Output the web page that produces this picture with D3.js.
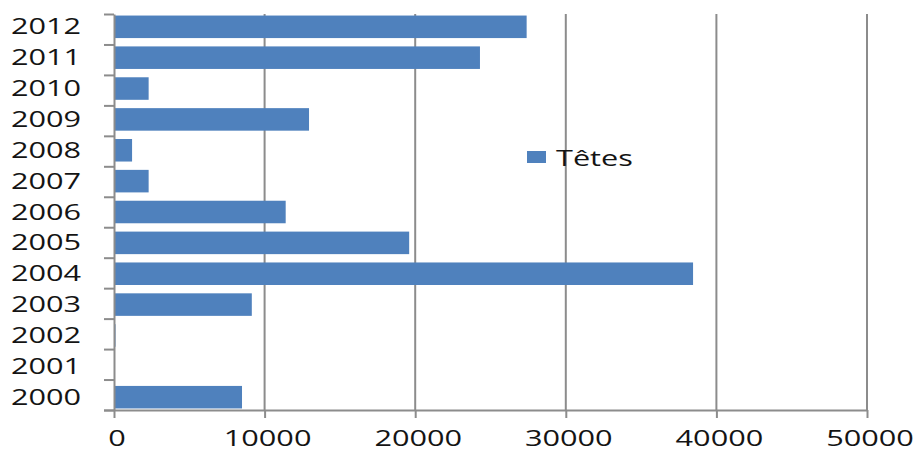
<!DOCTYPE html>
<html>
<head>
<meta charset="utf-8">
<script src="https://cdn.jsdelivr.net/npm/d3@7"></script>
<style>
  body { margin: 0; background: #fff; }
  text { font-family: "Open Sans", sans-serif; fill: #141414; }
</style>
</head>
<body>
<svg id="chart" width="920" height="452"></svg>
<script>
// data
const years = ["2000","2001","2002","2003","2004","2005","2006","2007","2008","2009","2010","2011","2012"];
const tetes = [8500, 0, 100, 9150, 38450, 19600, 11400, 2300, 1200, 12950, 2300, 24300, 27400];
const xTicks = [0, 10000, 20000, 30000, 40000, 50000];
const seriesName = "Têtes";

// plot area
const plotLeft = 114, plotRight = 867, plotTop = 14, plotBottom = 410;
const stretch = 1.46; // text in the picture is wider than normal

const svg = d3.select("#chart");

const x = d3.scaleLinear().domain([0, 50000]).range([plotLeft, plotRight]);
const y = d3.scaleBand().domain(years.slice().reverse()).range([plotTop, plotBottom]).paddingInner(0.27).paddingOuter(0.05);
const yIdx = d3.scaleLinear().domain([0, years.length]).range([plotBottom, plotTop]);

// grid lines
svg.append("g")
  .selectAll("line")
  .data(xTicks.slice(1))
  .enter().append("line")
  .attr("x1", d => x(d)).attr("x2", d => x(d))
  .attr("y1", plotTop).attr("y2", plotBottom)
  .attr("stroke", "#8c8c8c").attr("stroke-width", 2);

// bars
svg.append("g")
  .selectAll("rect")
  .data(years.map((yr, i) => ({yr, v: tetes[i]})))
  .enter().append("rect")
  .attr("x", x(0))
  .attr("y", d => y(d.yr))
  .attr("width", d => Math.max(x(d.v) - x(0), d.v > 0 ? 1 : 0))
  .attr("height", y.bandwidth())
  .attr("fill", "#4f81bd");

// y axis (ticks at band boundaries)
const yAxis = svg.append("g")
  .attr("transform", `translate(${plotLeft},0)`)
  .call(d3.axisLeft(yIdx).tickValues(d3.range(0, years.length + 1)).tickFormat("").tickSize(10).tickSizeOuter(0));
yAxis.selectAll("line, path").attr("stroke", "#8c8c8c").attr("stroke-width", 2);

// x axis
const xAxis = svg.append("g")
  .attr("transform", `translate(0,${plotBottom})`)
  .call(d3.axisBottom(x).tickValues(xTicks).tickFormat("").tickSize(8).tickSizeOuter(0));
xAxis.select("path").attr("d", `M${plotLeft - 10},0.5H${plotRight}`);
xAxis.selectAll("line, path").attr("stroke", "#8c8c8c").attr("stroke-width", 2);

// y labels
svg.append("g")
  .selectAll("text")
  .data(years)
  .enter().append("text")
  .attr("transform", d => `translate(81,${y(d) + y.bandwidth() / 2}) scale(${stretch},1)`)
  .attr("text-anchor", "end")
  .attr("dy", "0.36em")
  .style("font-size", "21px")
  .text(d => d);

// x labels
svg.append("g")
  .selectAll("text")
  .data(xTicks)
  .enter().append("text")
  .attr("transform", d => `translate(${x(d) + 3},446) scale(${stretch},1)`)
  .attr("text-anchor", "middle")
  .style("font-size", "21px")
  .text(d => d);

// legend
svg.append("rect")
  .attr("x", 527).attr("y", 151)
  .attr("width", 19).attr("height", 12)
  .attr("fill", "#4f81bd");
svg.append("text")
  .attr("transform", `translate(556,166) scale(${stretch},1)`)
  .style("font-size", "21px")
  .text(seriesName);
</script>
</body>
</html>
